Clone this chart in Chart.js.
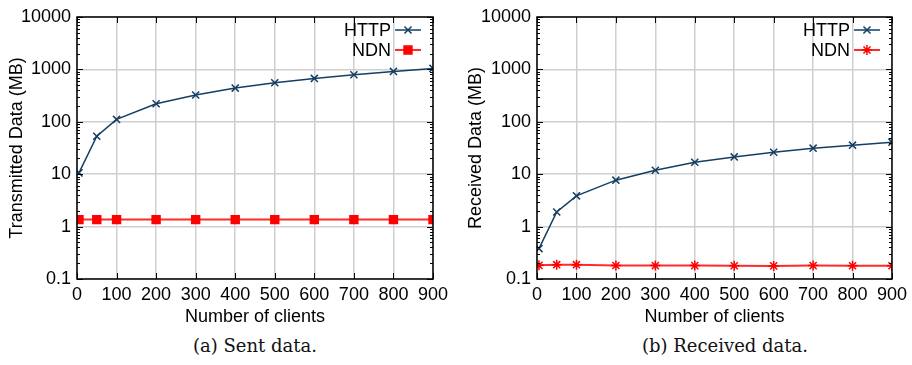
<!DOCTYPE html>
<html>
<head>
<meta charset="utf-8">
<script src="https://cdn.jsdelivr.net/npm/chart.js@4.4.1/dist/chart.umd.min.js"></script>
<style>
  html, body { margin: 0; padding: 0; background: #fff; }
  #wrap { position: relative; width: 912px; height: 365px; overflow: hidden; }
  .box { position: absolute; top: 0; width: 456px; height: 330px; }
  .cap { position: absolute; top: 335px; width: 300px; text-align: center;
         font-family: "DejaVu Serif", serif; font-size: 18px; color: #111; }
</style>
</head>
<body>
<div id="wrap">
  <div class="box" style="left:0"><canvas id="sent" width="456" height="330"></canvas></div>
  <div class="box" style="left:456px"><canvas id="recv" width="456" height="330"></canvas></div>
  <div class="cap" style="left:105px">(a) Sent data.</div>
  <div class="cap" style="left:575px">(b) Received data.</div>
</div>
<script>
// data
const clients = [5, 50, 100, 200, 300, 400, 500, 600, 700, 800, 900];
const sentHttp = [10.6, 53, 111, 221, 324, 440, 556, 673, 791, 916, 1045];
const sentNdn = [1.36, 1.36, 1.36, 1.36, 1.36, 1.36, 1.36, 1.36, 1.36, 1.36, 1.36];
const recvHttp = [0.38, 1.9, 3.86, 7.7, 11.9, 16.9, 21.4, 26.3, 31.4, 35.8, 40.9];
const recvNdn = [0.182, 0.188, 0.188, 0.181, 0.18, 0.18, 0.179, 0.178, 0.18, 0.179, 0.179];
const yTicks = [0.1, 1, 10, 100, 1000, 10000];
const xTicks = [0, 100, 200, 300, 400, 500, 600, 700, 800, 900];

const blue = '#153e63';
const red = '#ff0000';
const font = { family: '"Liberation Sans", Arial, sans-serif', size: 18 };

function pts(ys) {
    return clients.map((c, i) => ({ x: c, y: ys[i] }));
}

// frame, inner ticks and gnuplot style legend
const frame = {
    id: 'frame',
    afterDatasetsDraw(chart) {
        const { ctx, chartArea: a, scales } = chart;
        ctx.save();
        ctx.strokeStyle = '#000';
        ctx.lineWidth = 1;
        ctx.beginPath();
        yTicks.forEach((v, k) => {
            const y = Math.round(scales.y.getPixelForValue(v)) + 0.5;
            ctx.moveTo(a.left, y); ctx.lineTo(a.left + 6, y);
            ctx.moveTo(a.right, y); ctx.lineTo(a.right - 6, y);
            if (k < yTicks.length - 1) {
                for (let m = 2; m < 10; m++) {
                    const ym = Math.round(scales.y.getPixelForValue(v * m)) + 0.5;
                    ctx.moveTo(a.left, ym); ctx.lineTo(a.left + 3, ym);
                    ctx.moveTo(a.right, ym); ctx.lineTo(a.right - 3, ym);
                }
            }
        });
        xTicks.forEach(v => {
            const x = Math.round(scales.x.getPixelForValue(v)) + 0.5;
            ctx.moveTo(x, a.bottom); ctx.lineTo(x, a.bottom - 6);
            ctx.moveTo(x, a.top); ctx.lineTo(x, a.top + 6);
        });
        ctx.stroke();
        ctx.lineWidth = 1.5;
        ctx.strokeRect(a.left, a.top, a.right - a.left, a.bottom - a.top);

        // legend: label, then line sample with marker
        ctx.font = font.size + 'px ' + font.family;
        ctx.textAlign = 'right';
        ctx.textBaseline = 'middle';
        chart.data.datasets.forEach((ds, i) => {
            const y = a.top + 13 + i * 20;
            ctx.fillStyle = '#000';
            ctx.fillText(ds.label, a.right - 42, y + 1);
            ctx.strokeStyle = ds.borderColor;
            ctx.lineWidth = ds.borderWidth;
            ctx.beginPath();
            ctx.moveTo(a.right - 38, y); ctx.lineTo(a.right - 12, y);
            ctx.stroke();
            ctx.fillStyle = ds.pointBackgroundColor;
            ctx.strokeStyle = ds.pointBorderColor;
            ctx.lineWidth = ds.pointBorderWidth;
            Chart.helpers.drawPoint(ctx, {
                pointStyle: ds.pointStyle, radius: ds.pointRadius,
                borderWidth: ds.pointBorderWidth, rotation: 0
            }, a.right - 25, y);
        });
        ctx.restore();
    }
};

function makeChart(id, title, httpVals, ndnVals, ndnStyle, ndnRadius, yWidth, rightPad, titlePad) {
    new Chart(document.getElementById(id), {
        type: 'line',
        data: {
            datasets: [
                {
                    label: 'HTTP', data: pts(httpVals),
                    borderColor: blue, backgroundColor: blue, borderWidth: 1.5,
                    pointStyle: 'crossRot', pointRadius: 5, pointBorderWidth: 1.5,
                    pointBorderColor: blue, pointBackgroundColor: blue
                },
                {
                    label: 'NDN', data: pts(ndnVals),
                    borderColor: '#ff2a2a', backgroundColor: red, borderWidth: 2,
                    pointStyle: ndnStyle, pointRadius: ndnRadius, pointBorderWidth: 1.5,
                    pointBorderColor: red, pointBackgroundColor: red
                }
            ]
        },
        options: {
            responsive: false,
            animation: false,
            events: [],
            layout: { padding: { top: 17, right: rightPad, left: 0, bottom: 0 } },
            plugins: { legend: { display: false }, tooltip: { enabled: false } },
            elements: { line: { tension: 0 } },
            scales: {
                x: {
                    type: 'linear', min: 0, max: 900,
                    afterBuildTicks: s => { s.ticks = xTicks.map(v => ({ value: v })); },
                    afterFit: s => { s.height = 51; },
                    grid: { color: '#cfcfcf', lineWidth: 1.5, drawTicks: false },
                    border: { display: false },
                    ticks: { color: '#000', font: font, padding: 5, maxRotation: 0 },
                    title: { display: true, text: 'Number of clients', color: '#000', font: font, padding: { top: 0, bottom: 2 } }
                },
                y: {
                    type: 'logarithmic', min: 0.1, max: 10000,
                    afterBuildTicks: s => { s.ticks = yTicks.map(v => ({ value: v })); },
                    afterFit: s => { s.width = yWidth; },
                    grid: { color: '#cfcfcf', lineWidth: 1.5, drawTicks: false },
                    border: { display: false },
                    ticks: { color: '#000', font: font, padding: 6, callback: v => String(v) },
                    title: { display: true, text: title, color: '#000', font: font, padding: { top: titlePad, bottom: 0 } }
                }
            }
        },
        plugins: [frame]
    });
}

makeChart('sent', 'Transmitted Data (MB)', sentHttp, sentNdn, 'rect', 5.6, 77, 23, 6);
makeChart('recv', 'Received Data (MB)', recvHttp, recvNdn, 'star', 5, 81, 19, 9);
</script>
</body>
</html>
